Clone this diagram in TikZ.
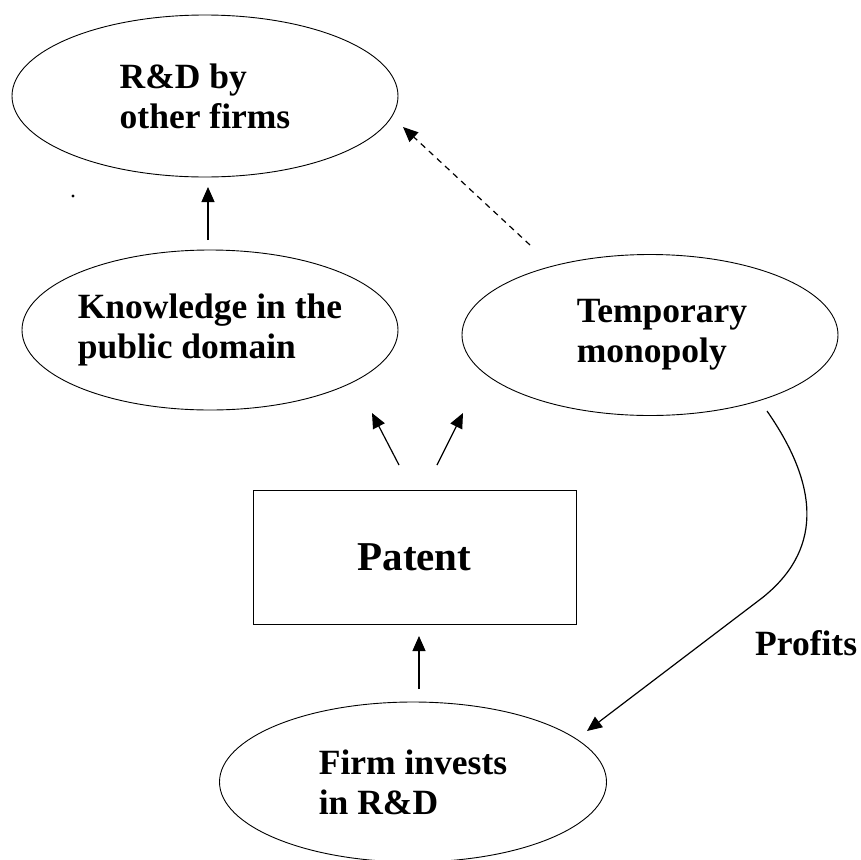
\documentclass[tikz,border=0pt]{standalone}
\usepackage{fontspec}
\setmainfont{Liberation Serif}
\usetikzlibrary{arrows.meta,shapes.geometric}
\begin{document}
\begin{tikzpicture}[x=1pt,y=-1pt,
  bub/.style={draw, line width=0.9pt, ellipse, inner sep=0pt, align=left,
    font=\bfseries\fontsize{35.5}{40}\selectfont},
  arr/.style={line width=1.2pt, -{Triangle[length=15pt,width=13pt]}},
  dasharr/.style={arr, dash pattern=on 6pt off 5pt},
  lbl/.style={font=\bfseries\fontsize{35.5}{40}\selectfont, inner sep=0pt}
]
\useasboundingbox (0,0) rectangle (860,860);
% nodes
\node[bub, minimum width=386pt, minimum height=162pt] (rd) at (205,96) {R\&D by\\other firms};
\node[bub, minimum width=376pt, minimum height=160pt] (know) at (210,330) {Knowledge in the\\public domain};
\node[bub, minimum width=376pt, minimum height=161pt] (temp) at (650,335) {\hspace*{24pt}Temporary\\\hspace*{24pt}monopoly};
\node[draw, line width=1pt, minimum width=323pt, minimum height=134pt, inner sep=0pt,
  font=\bfseries\fontsize{41}{48}\selectfont] (pat) at (414.5,557) {Patent};
\node[bub, minimum width=387pt, minimum height=160pt] (firm) at (413,782) {Firm invests\\in R\&D};
\node[lbl, anchor=base west] (prof) at (755,655) {Profits};
\fill (73,196) circle (1.7pt);
% connector end points
\coordinate (k1) at (208,240);
\coordinate (r1) at (208,187);
\coordinate (t1) at (530,245);
\coordinate (r2) at (403,127);
\coordinate (p1) at (399,465);
\coordinate (k2) at (372,413);
\coordinate (p2) at (437,465);
\coordinate (t2) at (463,413);
\coordinate (f1) at (419,689);
\coordinate (p3) at (419,636);
\coordinate (cs) at (767,411);
\coordinate (cm) at (762,598);
\coordinate (ce) at (587,731);
% connectors
\draw[arr] (k1) -- (r1);
\draw[dasharr] (t1) -- (r2);
\draw[arr] (p1) -- (k2);
\draw[arr] (p2) -- (t2);
\draw[arr] (f1) -- (p3);
\draw[arr] (cs) .. controls (822,490) and (820,552) .. (cm) -- (ce);
\end{tikzpicture}
\end{document}
